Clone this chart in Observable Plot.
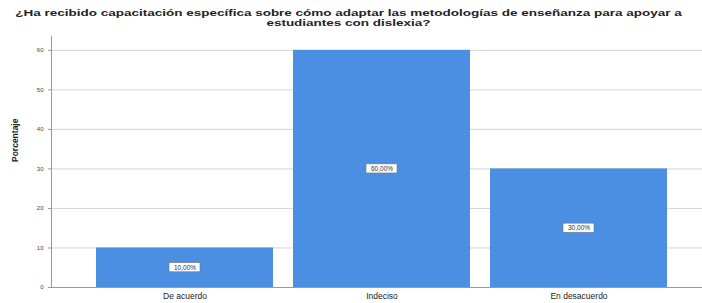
<!DOCTYPE html>
<html>
<head>
<meta charset="utf-8">
<script src="https://cdn.jsdelivr.net/npm/d3@7"></script>
<script src="https://cdn.jsdelivr.net/npm/@observablehq/plot@0.6"></script>
<style>
  html, body { margin: 0; padding: 0; background: #fff; }
  #wrap { position: relative; width: 702px; height: 303px; overflow: hidden; }
  #title { position: absolute; left: 0; top: 8px; width: 702px; text-align: center;
    font-family: "Liberation Sans", Arial, sans-serif; font-weight: bold; font-size: 9.5px;
    line-height: 9.5px; color: #222; transform: scaleX(1.42); transform-origin: 357px 0; }
</style>
</head>
<body>
<div id="wrap">
  <div id="chart"></div>
  <div id="title">¿Ha recibido capacitación específica sobre cómo adaptar las metodologías de enseñanza para apoyar a<br>estudiantes con dislexia?</div>
</div>
<script>
const categories = ["De acuerdo", "Indeciso", "En desacuerdo"];
const values = [10, 60, 30];
const valueLabels = ["10,00%", "60,00%", "30,00%"];
const yTicks = [0, 10, 20, 30, 40, 50, 60];

const data = categories.map((c, i) => ({cat: c, v: values[i], label: valueLabels[i]}));

const chart = Plot.plot({
  width: 702,
  height: 303,
  marginTop: 36,
  marginBottom: 16,
  marginLeft: 51,
  marginRight: 0,
  style: {fontFamily: "'Liberation Sans', Arial, sans-serif", background: "#fff"},
  x: {domain: categories, paddingInner: 0.104, paddingOuter: 0.2, align: 0.56, label: null},
  y: {domain: [0, 63.5], label: null},
  marks: [
    Plot.gridY(yTicks, {stroke: "#d4d4d4", strokeOpacity: 1}),
    Plot.barY(data, {x: "cat", y: "v", fill: "#4a8fe2"}),
    Plot.barY(data, {x: "cat", y1: d => d.v / 2 - 1.15, y2: d => d.v / 2 + 1.15,
      fill: "white", stroke: "#777", strokeWidth: 0.6, insetLeft: 73, insetRight: 73}),
    Plot.text(data, {x: "cat", y: d => d.v / 2, text: "label", fontSize: 6.5, fill: "#333"}),
    Plot.ruleY([0], {stroke: "#999"}),
    Plot.axisY(yTicks, {tickSize: 3, tickPadding: 5, fontSize: 6, fill: "#444", stroke: "#999", label: null}),
    Plot.axisX({tickSize: 0, tickPadding: 5, fontSize: 8.5, fill: "#222", label: null}),
    Plot.frame({anchor: "left", stroke: "#999"}),
    Plot.text(["Porcentaje"], {frameAnchor: "left", dx: -36, rotate: -90, fontSize: 8.5, fontWeight: "bold", fill: "#222"})
  ]
});
document.getElementById("chart").appendChild(chart);
</script>
</body>
</html>
